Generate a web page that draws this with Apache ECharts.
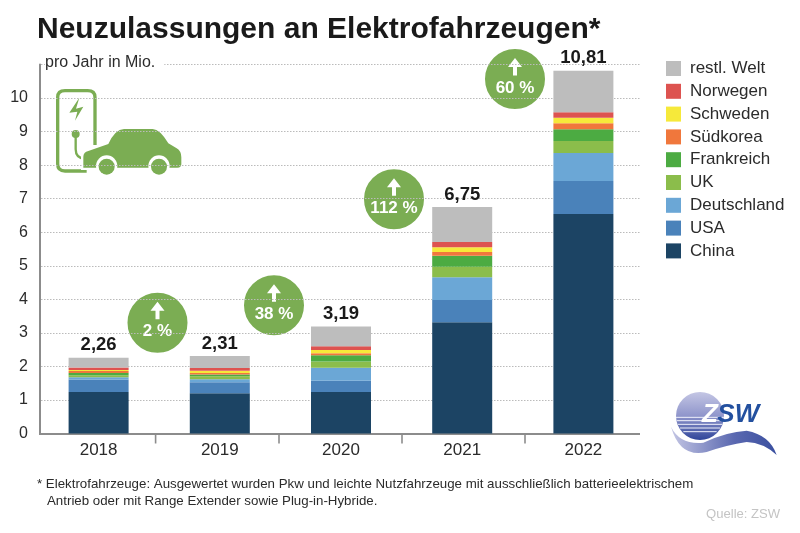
<!DOCTYPE html>
<html lang="de">
<head>
<meta charset="UTF-8">
<title>Neuzulassungen an Elektrofahrzeugen</title>
<style>
    html, body { margin: 0; padding: 0; background: #fff; }
    #chart { width: 800px; height: 533px; }
</style>
<script src="https://cdn.jsdelivr.net/npm/echarts@6/dist/echarts.min.js"></script>
</head>
<body>
<div id="chart"></div>
<script>
var years = ['2018', '2019', '2020', '2021', '2022'];
var totals = ['2,26', '2,31', '3,19', '6,75', '10,81'];
var china = [1.24, 1.20, 1.24, 3.32, 6.54];
var usa = [0.37, 0.33, 0.33, 0.66, 0.99];
var deutschland = [0.07, 0.09, 0.39, 0.68, 0.83];
var uk = [0.06, 0.09, 0.19, 0.31, 0.36];
var frankreich = [0.06, 0.05, 0.18, 0.33, 0.35];
var suedkorea = [0.06, 0.04, 0.06, 0.11, 0.18];
var schweden = [0.03, 0.07, 0.10, 0.14, 0.16];
var norwegen = [0.08, 0.08, 0.11, 0.16, 0.17];
var restWelt = [0.29, 0.36, 0.59, 1.04, 1.23];
var growth = ['2 %', '38 %', '112 %', '60 %'];

var FONT = '"Liberation Sans", Arial, sans-serif';
var TEXT = '#2b2b2b';
var GREEN = '#7bad53';
var AXIS = '#8c8c8c';

function barSeries(name, data, color) {
    return {
        name: name,
        type: 'bar',
        stack: 'total',
        barWidth: 60,
        data: data,
        itemStyle: { color: color }
    };
}

var series = [
    barSeries('China', china, '#1c4464'),
    barSeries('USA', usa, '#4a82ba'),
    barSeries('Deutschland', deutschland, '#6ba7d6'),
    barSeries('UK', uk, '#8bbd4b'),
    barSeries('Frankreich', frankreich, '#4cab42'),
    barSeries('Südkorea', suedkorea, '#f0773c'),
    barSeries('Schweden', schweden, '#f6e93a'),
    barSeries('Norwegen', norwegen, '#dd5350'),
    barSeries('restl. Welt', restWelt, '#bdbdbd')
];
// Summe steht ueber dem obersten Segment
series[8].label = {
    show: true,
    position: 'top',
    distance: 3,
    color: '#1a1a1a',
    fontFamily: FONT,
    fontSize: 18.5,
    fontWeight: 'bold',
    formatter: function (p) { return totals[p.dataIndex]; }
};

// graphic kennt keinen path Typ, also eigene Shapes registrieren
var shapeCount = 0;
function svgPath(pathData, style) {
    var name = 'svgShape' + (shapeCount++);
    echarts.graphic.registerShape(name, echarts.graphic.extendPath(pathData, {}));
    return { type: name, style: style };
}

// Kreis mit Pfeil und Prozentwert
function bubble(cx, cy, text) {
    return {
        type: 'group',
        x: cx,
        y: cy,
        z: 20,
        children: [
            { type: 'circle', shape: { cx: 0, cy: 0, r: 31.5 }, style: { fill: GREEN, stroke: '#fff', lineWidth: 3 } },
            svgPath('M0,-21 L7,-12 L2,-12 L2,-3.5 L-2,-3.5 L-2,-12 L-7,-12 Z', { fill: '#fff' }),
            { type: 'text', x: 0, y: 9, style: { text: text, fill: '#fff', font: 'bold 17px ' + FONT, align: 'center', verticalAlign: 'middle' } }
        ]
    };
}

// Ladesaeule mit Auto, Koordinaten im 3x Raster
var carBody = 'M130,318 L130,290 Q130,277 145,273 L205,252 Q225,208 252,207 L338,207 Q360,208 385,250 L410,265 Q424,273 424,292 L424,312 Q424,323 412,323 L130,323 Z';
var carIcon = {
    type: 'group',
    x: 40,
    y: 60,
    scaleX: 1 / 3,
    scaleY: 1 / 3,
    z: 20,
    children: [
        { type: 'rect', shape: { x: 53, y: 92, width: 112, height: 241 }, style: { fill: '#fff' } },
        svgPath('M140,333 L75,333 Q53,333 53,312 L53,112 Q53,92 75,92 L143,92 Q165,92 165,112 L165,255', { fill: null, stroke: GREEN, lineWidth: 10 }),
        svgPath('M118,113 L88,158 L112,155 L105,182 L130,140 L108,146 Z', { fill: GREEN }),
        { type: 'circle', shape: { cx: 107, cy: 222, r: 12 }, style: { fill: GREEN } },
        svgPath('M107,228 L107,268 Q107,295 135,297', { fill: null, stroke: GREEN, lineWidth: 7 }),
        svgPath(carBody, { fill: '#fff', stroke: '#fff', lineWidth: 14 }),
        svgPath(carBody, { fill: GREEN }),
        { type: 'circle', shape: { cx: 200, cy: 318, r: 32 }, style: { fill: '#fff' } },
        { type: 'circle', shape: { cx: 357, cy: 318, r: 32 }, style: { fill: '#fff' } },
        { type: 'circle', shape: { cx: 200, cy: 320, r: 24 }, style: { fill: GREEN } },
        { type: 'circle', shape: { cx: 357, cy: 320, r: 24 }, style: { fill: GREEN } }
    ]
};

// ZSW Logo
var logo = {
    type: 'group',
    x: 660,
    y: 380,
    scaleX: 1 / 3,
    scaleY: 1 / 3,
    z: 20,
    children: [
        {
            type: 'circle',
            shape: { cx: 120, cy: 108, r: 72 },
            style: {
                fill: new echarts.graphic.LinearGradient(0, 0, 0, 1, [
                    { offset: 0, color: '#c4c6e4' },
                    { offset: 0.5, color: '#8f95cb' },
                    { offset: 1, color: '#2f459a' }
                ])
            }
        },
        svgPath('M48,112 L192,112 M50,122 L190,122 M54,133 L186,133 M60,144 L180,144 M70,155 L170,155', { fill: null, stroke: '#eef0fa', lineWidth: 3 }),
        svgPath('M33,140 Q60,195 130,188 Q200,155 260,152 Q330,165 350,225 Q310,188 260,186 Q200,195 140,216 Q60,235 33,140 Z', {
            fill: new echarts.graphic.LinearGradient(0, 0, 1, 0, [
                { offset: 0, color: '#c4c6e4' },
                { offset: 0.6, color: '#5a68b0' },
                { offset: 1, color: '#3a4f9f' }
            ])
        }),
        { type: 'text', x: 126, y: 64, style: { text: 'Z', fill: '#fff', font: 'italic bold 78px ' + FONT } },
        { type: 'text', x: 172, y: 64, style: { text: 'SW', fill: '#23509f', font: 'italic bold 78px ' + FONT } }
    ]
};

// Striche zwischen den Jahren
var tickX = [155.6, 279, 402, 525];
var xTicks = tickX.map(function (x) {
    return { type: 'line', z: 5, shape: { x1: x, y1: 434, x2: x, y2: 443.5 }, style: { stroke: AXIS, lineWidth: 1.6 } };
});

var chart = echarts.init(document.getElementById('chart'));
chart.setOption({
    backgroundColor: '#fff',
    animation: false,
    textStyle: { fontFamily: FONT },
    title: {
        text: 'Neuzulassungen an Elektrofahrzeugen*',
        left: 32,
        top: 10,
        textStyle: { fontFamily: FONT, fontSize: 30, fontWeight: 'bold', color: '#1a1a1a' }
    },
    legend: {
        orient: 'vertical',
        left: 661,
        top: 55,
        icon: 'rect',
        itemWidth: 15,
        itemHeight: 15,
        itemGap: 5.8,
        selectedMode: false,
        data: ['restl. Welt', 'Norwegen', 'Schweden', 'Südkorea', 'Frankreich', 'UK', 'Deutschland', 'USA', 'China'],
        textStyle: { fontFamily: FONT, fontSize: 17, color: TEXT, padding: [0, 0, 0, 4] }
    },
    grid: { left: 38, right: 156, top: 64.5, bottom: 99.5 },
    xAxis: {
        type: 'category',
        data: years,
        axisLine: { lineStyle: { color: AXIS, width: 2 } },
        axisTick: { show: false },
        axisLabel: { color: TEXT, fontSize: 17, margin: 8, fontFamily: FONT }
    },
    yAxis: {
        type: 'value',
        min: 0,
        max: 11,
        interval: 1,
        offset: -2,
        axisLine: { show: true, lineStyle: { color: AXIS, width: 2 } },
        axisTick: { show: false },
        axisLabel: {
            color: TEXT,
            fontSize: 16,
            margin: 12,
            fontFamily: FONT,
            formatter: function (v) { return v === 11 ? '' : v; }
        },
        splitLine: { show: true, lineStyle: { color: '#bbbbbb', type: [1.5, 1.5], width: 1 } }
    },
    series: series,
    graphic: [
        // Achse und Gitter links und rechts kuerzen
        { type: 'rect', z: 5, shape: { x: 36, y: 60, width: 3, height: 380 }, style: { fill: '#fff' } },
        { type: 'rect', z: 5, shape: { x: 640, y: 60, width: 6, height: 380 }, style: { fill: '#fff' } }
    ].concat(xTicks, [
        { type: 'text', x: 45, y: 55, z: 20, style: { text: 'pro Jahr in Mio.', fill: TEXT, font: '16px ' + FONT, backgroundColor: '#fff', padding: [0, 9, 0, 0] } },
        carIcon,
        bubble(157.5, 322.7, growth[0]),
        bubble(274, 305.3, growth[1]),
        bubble(394, 199.3, growth[2]),
        bubble(515, 79, growth[3]),
        logo,
        { type: 'text', x: 37, y: 478, z: 20, style: { text: '* Elektrofahrzeuge: Ausgewertet wurden Pkw und leichte Nutzfahrzeuge mit ausschließlich batterieelektrischem', fill: TEXT, font: '13.3px ' + FONT } },
        { type: 'text', x: 47, y: 495, z: 20, style: { text: 'Antrieb oder mit Range Extender sowie Plug-in-Hybride.', fill: TEXT, font: '13.3px ' + FONT } },
        { type: 'text', x: 706, y: 508, z: 20, style: { text: 'Quelle: ZSW', fill: '#c4c4c4', font: '13.1px ' + FONT } }
    ])
});
</script>
</body>
</html>
